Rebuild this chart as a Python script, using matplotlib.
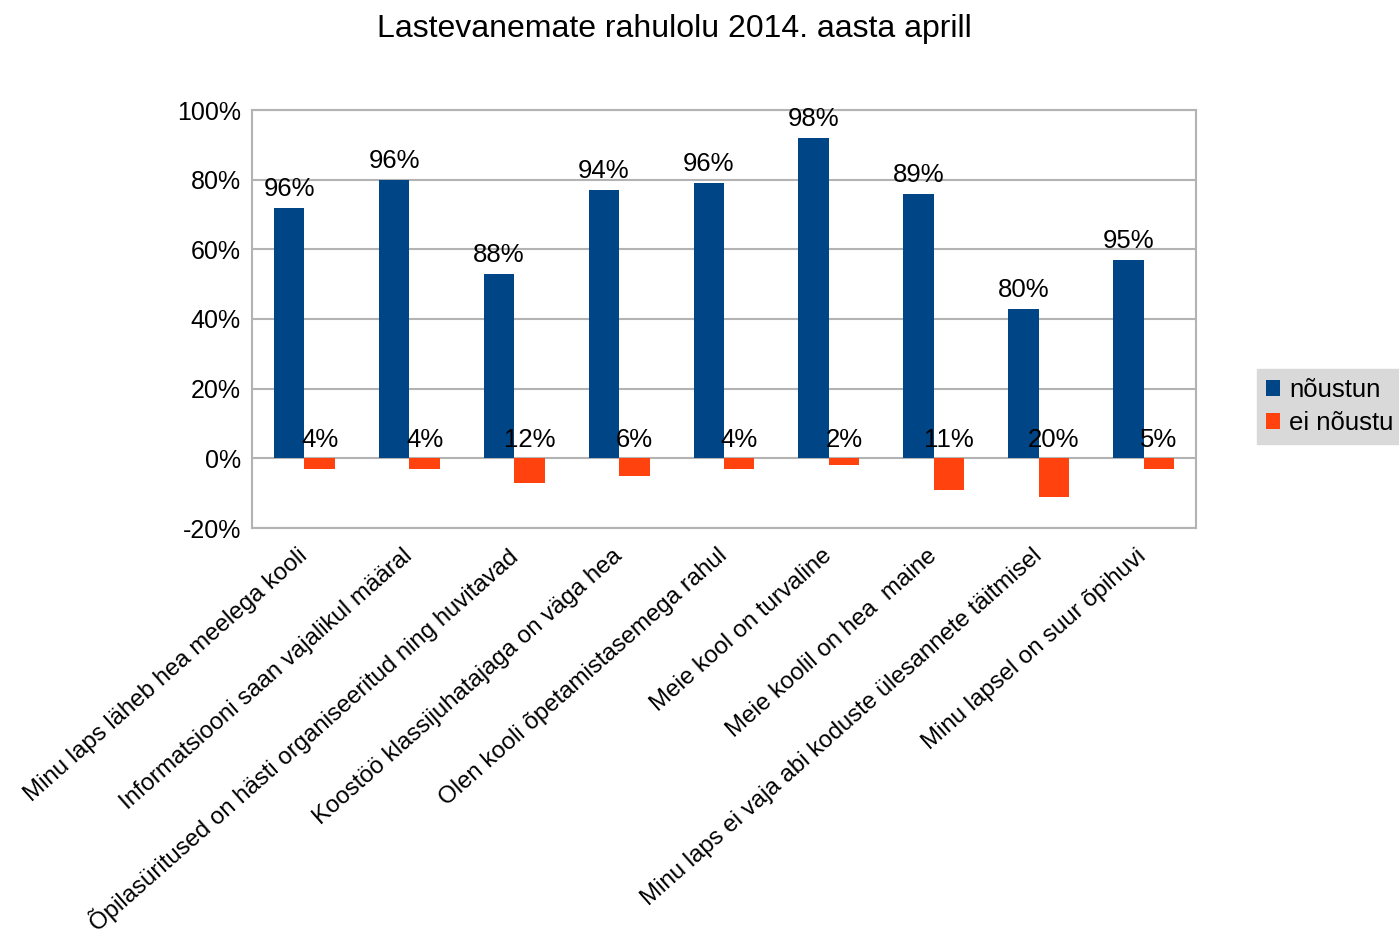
import matplotlib
matplotlib.use("Agg")
import matplotlib.pyplot as plt
import numpy as np
from matplotlib.ticker import FuncFormatter, MultipleLocator

plt.rcParams['font.family'] = ['Liberation Sans', 'DejaVu Sans']

title = "Lastevanemate rahulolu 2014. aasta aprill"
categories = [
    "Minu laps läheb hea meelega kooli",
    "Informatsiooni saan vajalikul määral",
    "Õpilasüritused on hästi organiseeritud ning huvitavad",
    "Koostöö klassijuhatajaga on väga hea",
    "Olen kooli õpetamistasemega rahul",
    "Meie kool on turvaline",
    "Meie koolil on hea  maine",
    "Minu laps ei vaja abi koduste ülesannete täitmisel",
    "Minu lapsel on suur õpihuvi",
]
series_names = ["nõustun", "ei nõustu"]
agree = [72, 80, 53, 77, 79, 92, 76, 43, 57]
disagree = [-3, -3, -7, -5, -3, -2, -9, -11, -3]
agree_labels = ["96%", "96%", "88%", "94%", "96%", "98%", "89%", "80%", "95%"]
disagree_labels = ["4%", "4%", "12%", "6%", "4%", "2%", "11%", "20%", "5%"]

blue = "#004586"
orange = "#ff420e"
grid_c = "#b3b3b3"

fig = plt.figure(figsize=(13.99, 9.40), dpi=100)
ax = fig.add_axes([252/1399, 1-528/940, (1196-252)/1399, (528-110)/940])

x = np.arange(len(categories))
w = 0.29
b1 = ax.bar(x - w/2, agree, w, color=blue, label=series_names[0], zorder=3)
b2 = ax.bar(x + w/2, disagree, w, color=orange, label=series_names[1], zorder=3)

ax.set_xlim(-0.5, len(categories) - 0.5)
ax.set_ylim(-20, 100)
ax.yaxis.set_major_locator(MultipleLocator(20))
ax.yaxis.set_major_formatter(FuncFormatter(lambda v, p: f"{int(round(v))}%"))
ax.grid(axis='y', color=grid_c, linewidth=1.5, zorder=0)
ax.set_axisbelow(True)
for s in ax.spines.values():
    s.set_color(grid_c)
    s.set_linewidth(1.5)
ax.tick_params(axis='both', length=0)
ax.tick_params(axis='y', labelsize=18, pad=8)

ax.set_xticks(x)
ax.set_xticklabels(categories, rotation=41.5, ha='right', rotation_mode='anchor', fontsize=17.3)
for lab in ax.get_xticklabels():
    lab.set_va('center')
ax.tick_params(axis='x', pad=18)

for xi, v, t in zip(x, agree, agree_labels):
    ax.annotate(t, (xi - w/2, v), xytext=(0, 7), textcoords='offset pixels',
                ha='center', va='bottom', fontsize=18.5, zorder=4)
for xi, v, t in zip(x, disagree, disagree_labels):
    ax.annotate(t, (xi + w/2, 0), xytext=(0, 6), textcoords='offset pixels',
                ha='center', va='bottom', fontsize=18.5, zorder=4)

fig.text(674/1399, 1-29/940, title, ha='center', va='center', fontsize=23)

leg = fig.legend(handles=[b1, b2], labels=series_names, loc='upper left',
                 bbox_to_anchor=(1257/1399, 1-369/940), frameon=True,
                 fontsize=18.5, handlelength=0.55, handleheight=0.55,
                 handletextpad=0.35, borderpad=0.35, labelspacing=0.35,
                 borderaxespad=0, fancybox=False)
leg.get_frame().set_facecolor("#d9d9d9")
leg.get_frame().set_edgecolor("#d9d9d9")
leg.get_frame().set_alpha(1)

fig.savefig("out.png", dpi=100, facecolor='white')
